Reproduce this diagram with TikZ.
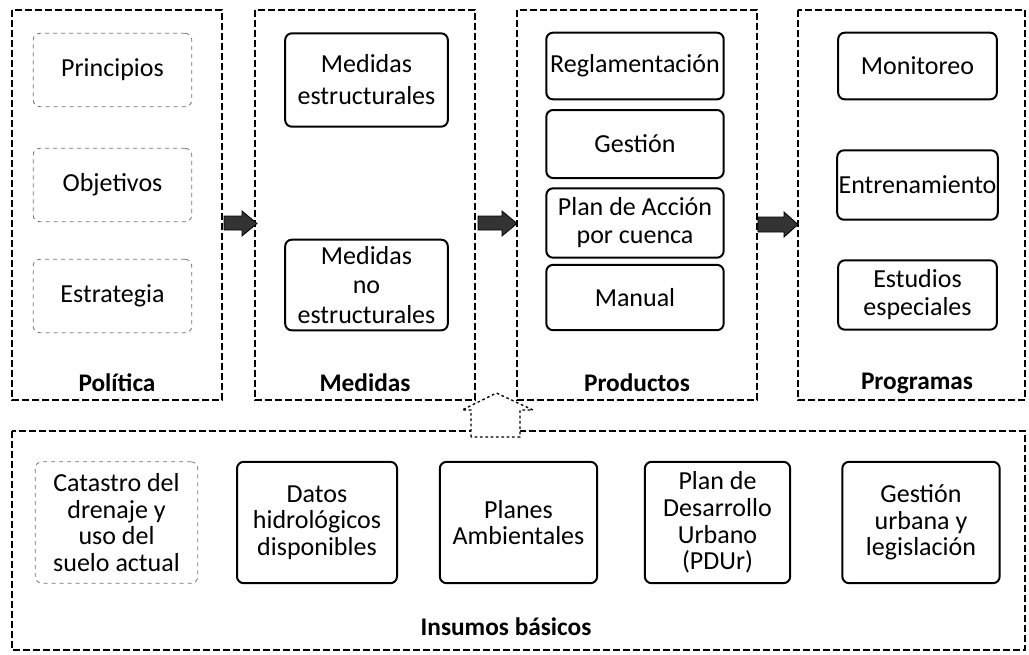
\documentclass[tikz,border=0pt]{standalone}
\usepackage{fontspec}
\setmainfont{Carlito}
\begin{document}
\begin{tikzpicture}[x=0.75pt,y=-0.75pt,
  panel/.style={draw=black,line width=1.6pt,dash pattern=on 5pt off 2.5pt},
  boxtext/.style={align=center,inner xsep=1pt,font=\fontsize{19.5}{21}\selectfont},
  softbox/.style={boxtext,draw=black!55,line width=0.6pt,dashed,rounded corners=5pt},
  hardbox/.style={boxtext,draw=black,line width=1.5pt,rounded corners=5pt},
  title/.style={font=\bfseries\fontsize{19}{21}\selectfont},
  flow/.style={fill=black!80,draw=black,line width=0.6pt},
  upflow/.style={draw=black,line width=1pt,dash pattern=on 2pt off 2pt,fill=white}]
\useasboundingbox (0,0) rectangle (1029,654);

% panels
\draw[panel] (12,10) rectangle (222,400);
\draw[panel] (255,10) rectangle (475,400);
\draw[panel] (517,10) rectangle (757,400);
\draw[panel] (798,10) rectangle (1025,400);
\draw[panel] (12,431) rectangle (1025,650);

% Politica
\node[softbox,minimum width=119pt,minimum height=55pt] (pr) at (112.5,70) {Principios};
\node[softbox,minimum width=119pt,minimum height=55pt] (ob) at (112.5,185) {Objetivos};
\node[softbox,minimum width=119pt,minimum height=55pt] (es) at (112.5,296) {Estrategia};
\node[title] (tpol) at (117,383) {Política};

% Medidas
\node[hardbox,minimum width=122pt,minimum height=70pt,font=\fontsize{19.5}{24}\selectfont] (me) at (366.5,80) {Medidas\\estructurales};
\node[hardbox,minimum width=122pt,minimum height=68pt,font=\fontsize{19.5}{22}\selectfont] (mn) at (366.5,285) {Medidas\\no\\estructurales};
\node[title] (tmed) at (365,383) {Medidas};

% Productos
\node[hardbox,minimum width=133pt,minimum height=50pt] (re) at (635,66) {Reglamentación};
\node[hardbox,minimum width=133pt,minimum height=51pt] (ge) at (635,144) {Gestión};
\node[hardbox,minimum width=133pt,minimum height=52pt] (pa) at (635,223) {Plan de Acción\\por cuenca};
\node[hardbox,minimum width=133pt,minimum height=49pt] (ma) at (635,297.5) {Manual};
\node[title] (tpro) at (637,383) {Productos};

% Programas
\node[hardbox,minimum width=119pt,minimum height=50pt] (mo) at (917.5,66) {Monitoreo};
\node[hardbox,minimum width=119pt,minimum height=52pt] (en) at (917.5,185) {Entrenamiento};
\node[hardbox,minimum width=119pt,minimum height=52pt] (ee) at (917.5,295) {Estudios\\especiales};
\node[title] (tprg) at (917,383) {Programas};

% block arrows between panels
\draw[flow] (224,216) -- (242,216) -- (242,211) -- (257,223.5) -- (242,236) -- (242,230) -- (224,230) -- cycle;
\draw[flow] (478,216) -- (502,216) -- (502,211) -- (517,223.5) -- (502,236) -- (502,230) -- (478,230) -- cycle;
\draw[flow] (758,217) -- (784,217) -- (784,212) -- (798,224.5) -- (784,237) -- (784,232) -- (758,232) -- cycle;

% upward arrow from the inputs
\draw[upflow] (471,437) -- (471,410) -- (462,410) -- (496.5,393) -- (533,410) -- (520,410) -- (520,437) -- cycle;

% Insumos basicos
\node[softbox,minimum width=122pt,minimum height=91pt,font=\fontsize{19.5}{20}\selectfont] (ca) at (116.5,522.5) {Catastro del\\drenaje y\\uso del\\suelo actual};
\node[hardbox,minimum width=120pt,minimum height=91pt,font=\fontsize{19.5}{20}\selectfont] (da) at (317,522.5) {Datos\\hidrológicos\\disponibles};
\node[hardbox,minimum width=118pt,minimum height=91pt,font=\fontsize{19.5}{20}\selectfont] (pl) at (518.5,522.5) {Planes\\Ambientales};
\node[hardbox,minimum width=109pt,minimum height=91pt,font=\fontsize{19.5}{20}\selectfont] (pd) at (717.5,522.5) {Plan de\\Desarrollo\\Urbano\\(PDUr)};
\node[hardbox,minimum width=118pt,minimum height=91pt,font=\fontsize{19.5}{20}\selectfont] (gu) at (921,522.5) {Gestión\\urbana y\\legislación};
\node[title] (tins) at (506,627) {Insumos básicos};
\end{tikzpicture}
\end{document}
